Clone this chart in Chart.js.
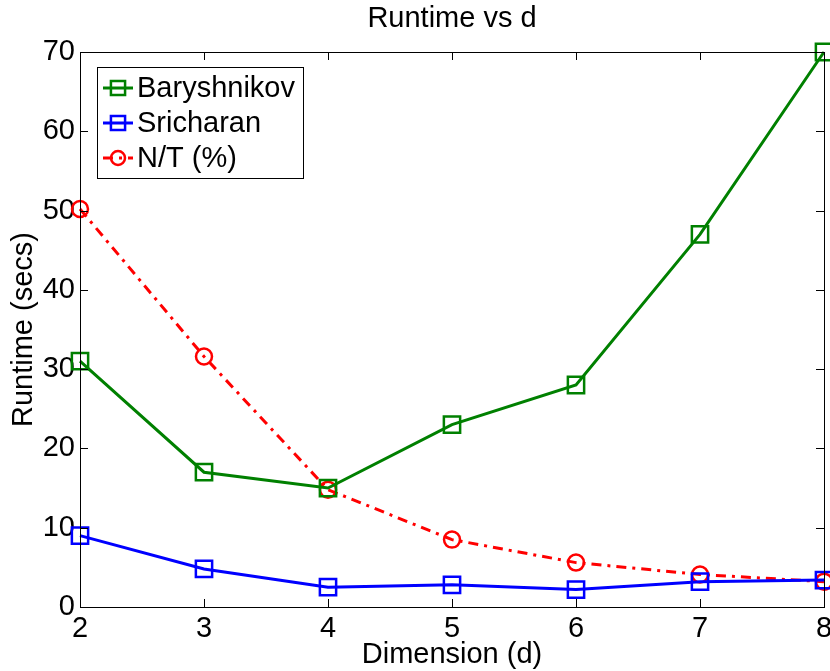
<!DOCTYPE html>
<html>
<head>
<meta charset="utf-8">
<script src="https://cdn.jsdelivr.net/npm/chart.js@4"></script>
<style>
  html, body { margin: 0; padding: 0; background: #fff; }
  #wrap { width: 830px; height: 671px; }
</style>
</head>
<body>
<div id="wrap"><canvas id="runtime-chart" width="830" height="671"></canvas></div>
<script>
const dims = [2, 3, 4, 5, 6, 7, 8];
const baryshnikov = [31, 17, 15, 23, 28, 47, 70];
const sricharan = [9, 4.8, 2.5, 2.8, 2.2, 3.2, 3.4];
const ntPercent = [50.2, 31.6, 14.8, 8.5, 5.6, 4.1, 3.2];

const chartTitle = 'Runtime vs d';
const FONT = '"Liberation Sans", Arial, Helvetica, sans-serif';

const toPoints = vals => vals.map((v, i) => ({ x: dims[i], y: v }));

// matlab-ish box with inward ticks on all four sides, title centred over the axes
const boxTicks = {
    id: 'boxTicks',
    afterDraw(chart) {
        const { ctx, chartArea: a, scales: { x, y } } = chart;
        const len = 8;
        ctx.save();
        ctx.fillStyle = '#000';
        ctx.font = '29px ' + FONT;
        ctx.textAlign = 'center';
        ctx.textBaseline = 'alphabetic';
        ctx.fillText(chartTitle, (a.left + a.right) / 2, 27);

        ctx.strokeStyle = '#000';
        ctx.lineWidth = 1;
        ctx.strokeRect(a.left + 0.5, a.top + 0.5, a.right - a.left, a.bottom - a.top);
        ctx.beginPath();
        x.ticks.forEach(t => {
            const px = Math.round(x.getPixelForValue(t.value)) + 0.5;
            ctx.moveTo(px, a.bottom); ctx.lineTo(px, a.bottom - len);
            ctx.moveTo(px, a.top); ctx.lineTo(px, a.top + len);
        });
        y.ticks.forEach(t => {
            const py = Math.round(y.getPixelForValue(t.value)) + 0.5;
            ctx.moveTo(a.left, py); ctx.lineTo(a.left + len, py);
            ctx.moveTo(a.right, py); ctx.lineTo(a.right - len, py);
        });
        ctx.stroke();
        ctx.restore();
    }
};

function marker(ctx, style, r, cx, cy) {
    ctx.beginPath();
    if (style === 'rect') {
        const h = r * Math.SQRT1_2;
        ctx.rect(cx - h, cy - h, 2 * h, 2 * h);
    } else {
        ctx.arc(cx, cy, r, 0, Math.PI * 2);
    }
    ctx.stroke();
}

// legend box in the upper-left corner of the plot
const insetLegend = {
    id: 'insetLegend',
    afterDraw(chart) {
        const { ctx, chartArea: a } = chart;
        const bx = a.left + 17, by = a.top + 15, bw = 206, bh = 111;
        ctx.save();
        ctx.fillStyle = '#fff';
        ctx.fillRect(bx, by, bw, bh);
        ctx.strokeStyle = '#000';
        ctx.lineWidth = 1;
        ctx.strokeRect(bx + 0.5, by + 0.5, bw, bh);
        chart.data.datasets.forEach((ds, i) => {
            const cy = by + 21 + i * 35;
            ctx.strokeStyle = ds.borderColor;
            ctx.lineWidth = ds.borderWidth;
            ctx.setLineDash(ds.borderDash || []);
            ctx.beginPath();
            ctx.moveTo(bx + 6, cy);
            ctx.lineTo(bx + 36, cy);
            ctx.stroke();
            ctx.setLineDash([]);
            ctx.lineWidth = ds.pointBorderWidth;
            marker(ctx, ds.pointStyle, ds.pointStyle === 'rect' ? 10 : 7, bx + 21, cy);
            ctx.fillStyle = '#000';
            ctx.font = '29px ' + FONT;
            ctx.textBaseline = 'middle';
            ctx.textAlign = 'left';
            ctx.fillText(ds.label, bx + 40, cy + 1);
        });
        ctx.restore();
    }
};

const series = (label, vals, color, style, radius, dash) => ({
    label,
    data: toPoints(vals),
    borderColor: color,
    backgroundColor: 'rgba(0,0,0,0)',
    borderWidth: 3,
    borderDash: dash,
    pointStyle: style,
    pointRadius: radius,
    pointBorderWidth: 2.5,
    pointBorderColor: color,
    pointBackgroundColor: 'rgba(0,0,0,0)',
    tension: 0,
    clip: false
});

new Chart(document.getElementById('runtime-chart'), {
    type: 'line',
    data: {
        datasets: [
            series('Baryshnikov', baryshnikov, '#008000', 'rect', 11.5),
            series('Sricharan', sricharan, '#0000ff', 'rect', 11.5),
            series('N/T (%)', ntPercent, '#ff0000', 'circle', 8, [10, 6, 3, 6])
        ]
    },
    options: {
        responsive: false,
        animation: false,
        layout: { autoPadding: false, padding: { left: 0, right: 6, top: 52, bottom: 0 } },
        plugins: {
            legend: { display: false },
            tooltip: { enabled: false },
            title: { display: false }
        },
        scales: {
            x: {
                type: 'linear',
                min: 2, max: 8,
                grid: { display: false, drawTicks: false },
                border: { display: false },
                ticks: { stepSize: 1, color: '#000', padding: 5, font: { family: FONT, size: 29 } },
                title: {
                    display: true, text: 'Dimension (d)', color: '#000',
                    font: { family: FONT, size: 29, lineHeight: 1.1 },
                    padding: { top: 0, bottom: 0 }
                },
                afterFit(s) { s.height = 64; s.paddingLeft = 0; s.paddingRight = 0; }
            },
            y: {
                min: 0, max: 70,
                grid: { display: false, drawTicks: false },
                border: { display: false },
                ticks: { stepSize: 10, color: '#000', padding: 5, font: { family: FONT, size: 29 } },
                title: {
                    display: true, text: 'Runtime (secs)', color: '#000',
                    font: { family: FONT, size: 29, lineHeight: 1.2 },
                    padding: { top: 7, bottom: 0 }
                },
                afterFit(s) { s.width = 80; s.paddingTop = 0; s.paddingBottom = 0; }
            }
        }
    },
    plugins: [boxTicks, insetLegend]
});
</script>
</body>
</html>
